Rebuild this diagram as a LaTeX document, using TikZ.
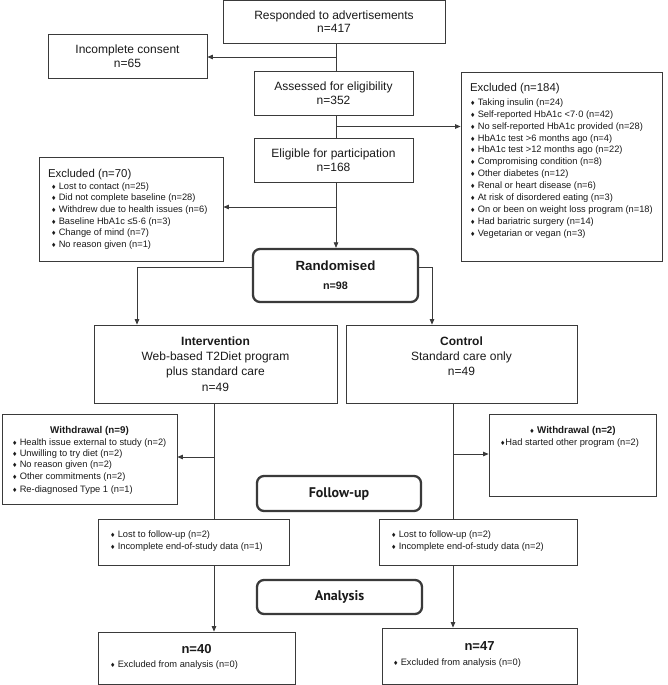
\documentclass[tikz,border=0pt]{standalone}
\usepackage{fontspec}
\setmainfont{Liberation Sans}
\newfontfamily\ptsans{PT Sans}
\newfontfamily\djv{DejaVu Sans}
\usetikzlibrary{arrows.meta}
\definecolor{ln}{HTML}{3A3A3A}
\definecolor{tx}{HTML}{1A1A1A}
\newcommand{\bl}{{\djv\fontsize{6}{6}\selectfont ♦}\hspace{2.4pt}}
\newcommand{\mfont}{\fontsize{12}{13.5}\selectfont}
\newcommand{\hfont}{\fontsize{11.4}{13}\selectfont}
\newcommand{\lfont}[1]{\fontsize{9.3}{#1}\selectfont}
\tikzset{
  box/.style={draw=ln, line width=0.8pt, inner sep=0pt, text=tx},
  rbox/.style={draw=ln, line width=2.3pt, rounded corners=7pt, inner sep=0pt, text=tx},
  conn/.style={draw=ln, line width=0.75pt},
  arr/.style={conn, -{Triangle[length=5.5pt,width=4.5pt]}}
}
\begin{document}
\begin{tikzpicture}[x=1pt,y=-1pt]
\useasboundingbox (0,0) rectangle (667,685);
% main column
\node[box, minimum width=222pt, minimum height=43pt, align=center, font=\mfont] (top) at (334,21.8) {Responded to advertisements\\n=417};
\node[box, minimum width=159pt, minimum height=44pt, align=center, font=\mfont] (inc) at (127.5,56) {Incomplete consent\\n=65};
\node[box, minimum width=159pt, minimum height=44pt, align=center, font=\mfont] (assess) at (333.5,93) {Assessed for eligibility\\n=352};
\node[box, minimum width=159pt, minimum height=44pt, align=center, font=\mfont] (elig) at (333.5,160) {Eligible for participation\\n=168};
% excluded 184
\node[box] (ex184) at (561.5,166.5) {\parbox[c][189pt][t]{201pt}{\lfont{11.9}\leftskip=9pt\rule{0pt}{19pt}{\hfont Excluded (n=184)}\\[2.4pt]
\bl Taking insulin (n=24)\\
\bl Self-reported HbA1c <7·0 (n=42)\\
\bl No self-reported HbA1c provided (n=28)\\
\bl HbA1c test >6 months ago (n=4)\\
\bl HbA1c test >12 months ago (n=22)\\
\bl Compromising condition (n=8)\\
\bl Other diabetes (n=12)\\
\bl Renal or heart disease (n=6)\\
\bl At risk of disordered eating (n=3)\\
\bl On or been on weight loss program (n=18)\\
\bl Had bariatric surgery (n=14)\\
\bl Vegetarian or vegan (n=3)}};
% excluded 70
\node[box] (ex70) at (131,209) {\parbox[c][104pt][t]{184pt}{\lfont{11.6}\leftskip=12pt\rule{0pt}{20pt}\hspace*{-3pt}{\hfont Excluded (n=70)}\\[0.7pt]
\bl Lost to contact (n=25)\\
\bl Did not complete baseline (n=28)\\
\bl Withdrew due to health issues (n=6)\\
\bl Baseline HbA1c ≤5·6 (n=3)\\
\bl Change of mind (n=7)\\
\bl No reason given (n=1)}};
% randomised
\node[rbox, minimum width=165pt, minimum height=53pt, align=center, font=\fontsize{11}{19}\selectfont] (rand) at (335.5,275.5) {{\fontsize{13.3}{19}\selectfont\bfseries Randomised}\\{\fontsize{10.8}{19}\selectfont\bfseries n=98}};
% arms
\node[box] (intv) at (215.5,364) {\parbox[c][78pt][t]{243pt}{\centering\fontsize{12}{15.3}\selectfont\rule{0pt}{20.2pt}\textbf{Intervention}\\Web-based T2Diet program\\plus standard care\\n=49}};
\node[box] (ctrl) at (461.5,364) {\parbox[c][78pt][t]{231pt}{\centering\fontsize{12}{15.3}\selectfont\rule{0pt}{20.2pt}\textbf{Control}\\Standard care only\\n=49}};
% withdrawals
\node[box] (wdl) at (89.5,459) {\parbox[c][90pt][t]{175pt}{{\centering\rule{0pt}{19.5pt}\bfseries\fontsize{9.8}{11.8}\selectfont Withdrawal (n=9)\par}\vspace{0.5pt}
\lfont{11.3}\leftskip=10pt
\bl Health issue external to study (n=2)\\
\bl Unwilling to try diet (n=2)\\
\bl No reason given (n=2)\\
\bl Other commitments (n=2)\\[2.2pt]
\bl Re-diagnosed Type 1 (n=1)}};
\node[box] (wdr) at (572.5,455) {\parbox[c][82pt][t]{167pt}{{\centering\rule{0pt}{19.5pt}\bfseries\fontsize{9.8}{11.8}\selectfont \bl Withdrawal (n=2)\par}
\lfont{11.8}\leftskip=11pt
{\djv\fontsize{6}{6}\selectfont ♦}Had started other program (n=2)}};
% follow-up
\node[rbox, minimum width=164pt, minimum height=35pt, font=\ptsans\bfseries\fontsize{14}{16}\selectfont] (fu) at (339,493.5) {Follow-up};
\node[box] (ful) at (193.5,542) {\parbox[c][46pt][t]{191pt}{\lfont{12}\leftskip=12pt\rule{0pt}{18.3pt}\bl Lost to follow-up (n=2)\\
\bl Incomplete end-of-study data (n=1)}};
\node[box] (fur) at (478,542) {\parbox[c][46pt][t]{198pt}{\lfont{12}\leftskip=12pt\rule{0pt}{18.3pt}\bl Lost to follow-up (n=2)\\
\bl Incomplete end-of-study data (n=2)}};
% analysis
\node[rbox, minimum width=165pt, minimum height=34pt, font=\ptsans\bfseries\fontsize{14}{16}\selectfont] (ana) at (339.5,597) {Analysis};
\node[box] (n40) at (196.5,658) {\parbox[c][52pt][t]{197pt}{{\centering\rule{0pt}{21.5pt}\bfseries\fontsize{13}{14}\selectfont n=40\par}
\lfont{13.8}\leftskip=12pt
\bl Excluded from analysis (n=0)}};
\node[box] (n47) at (479.5,656) {\parbox[c][56pt][t]{195pt}{{\centering\rule{0pt}{22.5pt}\bfseries\fontsize{13}{14}\selectfont n=47\par}
\lfont{14.8}\leftskip=11pt
\bl Excluded from analysis (n=0)}};
% connectors
\coordinate (sp) at (336,0);
\coordinate (j0) at (336,57);
\coordinate (j1) at (336,126.5);
\coordinate (j2) at (336,207);
\draw[conn] (top.south -| sp) -- (assess.north -| sp);
\draw[arr] (j0) -- (j0 -| inc.east);
\draw[conn] (assess.south -| sp) -- (elig.north -| sp);
\draw[arr] (j1) -- (j1 -| ex184.west);
\draw[arr] (j2) -- (j2 -| ex70.east);
\draw[arr] (elig.south -| sp) -- (rand.north -| sp);
\coordinate (rl) at (137,267);
\coordinate (rr) at (432,267);
\draw[arr] (rand.west |- rl) -| (intv.north -| rl);
\draw[arr] (rand.east |- rr) -| (ctrl.north -| rr);
\coordinate (cl) at (214,457);
\coordinate (cr) at (453,454);
\draw[conn] (intv.south -| cl) -- (ful.north -| cl);
\draw[arr] (cl) -- (cl -| wdl.east);
\draw[arr] (ful.south -| cl) -- (n40.north -| cl);
\draw[conn] (ctrl.south -| cr) -- (fur.north -| cr);
\draw[arr] (cr) -- (cr -| wdr.west);
\draw[arr] (fur.south -| cr) -- (n47.north -| cr);
\end{tikzpicture}
\end{document}
